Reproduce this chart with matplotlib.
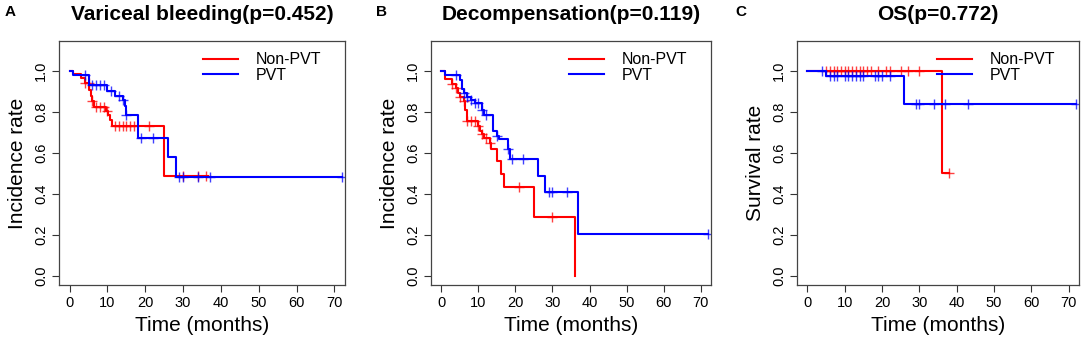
import numpy as np
import matplotlib
matplotlib.use('Agg')
import matplotlib.pyplot as plt

plt.rcParams['font.family'] = ['Liberation Sans', 'DejaVu Sans']

# ---- data ----
# panel A: variceal bleeding
a_red_t = [0, 1, 3, 4, 5.2, 5.6, 5.9, 6.4, 9.6, 10.2, 10.7, 11.2, 25]
a_red_s = [1.0, 0.982, 0.962, 0.94, 0.905, 0.878, 0.852, 0.822, 0.805, 0.782, 0.757, 0.732, 0.488]
a_red_end = 36.5
a_red_cens = [4, 5, 6, 7, 8, 9, 10, 12, 13, 14, 15, 16, 17, 21, 30, 34, 36]
a_blue_t = [0, 1, 5, 10, 12, 14, 14.6, 15, 18, 26, 28]
a_blue_s = [1.0, 0.978, 0.932, 0.902, 0.878, 0.856, 0.826, 0.786, 0.674, 0.578, 0.482]
a_blue_end = 72
a_blue_cens = [4, 6, 7, 8, 9, 11, 13, 14, 15, 19, 22, 29, 30, 34, 37, 72]

# panel B: decompensation
b_red_t = [0, 1, 3, 4, 4.5, 5, 6, 6.5, 7, 10, 10.5, 11, 11.5, 13, 13.5, 15, 16, 17, 25, 36]
b_red_s = [1.0, 0.957, 0.935, 0.913, 0.891, 0.87, 0.85, 0.81, 0.753, 0.73, 0.708, 0.69, 0.67, 0.645, 0.62, 0.558, 0.497, 0.434, 0.288, 0.0]
b_red_end = 36
b_red_cens = [3, 4, 5, 6, 7, 8, 9, 10, 11, 12, 13, 21, 30]
b_blue_t = [0, 1, 5, 5.5, 6, 7, 8, 9, 11, 11.5, 14, 15, 15.5, 18, 18.5, 26, 28, 37]
b_blue_s = [1.0, 0.978, 0.956, 0.91, 0.889, 0.872, 0.858, 0.84, 0.81, 0.783, 0.705, 0.68, 0.666, 0.617, 0.571, 0.489, 0.408, 0.204]
b_blue_end = 72
b_blue_cens = [4, 6, 7, 8, 9, 10, 11, 12, 15, 18, 19, 22, 29, 30, 34, 72]

# panel C: overall survival
c_red_t = [0, 36]
c_red_s = [1.0, 0.5]
c_red_end = 38
c_red_cens = [5, 6, 7, 8, 9, 10, 11, 12, 13, 14, 15, 16, 17, 19, 21, 22, 25, 27, 30, 38]
c_blue_t = [0, 5, 26]
c_blue_s = [1.0, 0.976, 0.837]
c_blue_end = 72
c_blue_cens = [4, 6, 7, 8, 10, 11, 12, 13, 14, 15, 18, 19, 20, 22, 29, 30, 34, 37, 43, 72]

titles = ['Variceal bleeding(p=0.452)', 'Decompensation(p=0.119)', 'OS(p=0.772)']
letters = ['A', 'B', 'C']
ylabels = ['Incidence rate', 'Incidence rate', 'Survival rate']
group_names = ['Non-PVT', 'PVT']

panels = [
    ((a_red_t, a_red_s, a_red_end, a_red_cens), (a_blue_t, a_blue_s, a_blue_end, a_blue_cens)),
    ((b_red_t, b_red_s, b_red_end, b_red_cens), (b_blue_t, b_blue_s, b_blue_end, b_blue_cens)),
    ((c_red_t, c_red_s, c_red_end, c_red_cens), (c_blue_t, c_blue_s, c_blue_end, c_blue_cens)),
]
colors = ['#ff0000', '#0000ff']

W, H = 1084, 341
fig = plt.figure(figsize=(W / 100, H / 100), dpi=100)

# axes boxes in pixels: left, right, top, bottom
boxes = [(59, 345, 41, 285), (431, 711, 41, 285), (797, 1079, 41, 285)]
letter_x = [5, 376, 735]


def step_at(t, s, x):
    i = np.searchsorted(np.asarray(t), x, side='right') - 1
    return np.asarray(s)[i]


for k, (l, r, top, bot) in enumerate(boxes):
    ax = fig.add_axes([l / W, 1 - bot / H, (r - l) / W, (bot - top) / H])
    for (t, s, end, cens), col in zip(panels[k], colors):
        tt = list(t) + [end]
        ss = list(s) + [s[-1]]
        ax.step(tt, ss, where='post', color=col, lw=1.5)
        cy = [step_at(t, s, c) for c in cens]
        ax.plot(cens, cy, ls='none', marker='+', ms=7, mew=1.0, color=col, alpha=0.75)
    # legend: plain lines + text, no frame
    for name, col in zip(group_names, colors):
        ax.plot([], [], color=col, lw=1.5, label=name)
    ax.legend(loc='upper right', frameon=False, fontsize=11.5, handlelength=2.2,
              handletextpad=1.1, labelspacing=0.05, borderaxespad=0.3,
              bbox_to_anchor=(0.955, 1.0))
    ax.set_xlim(-2.8, 72.8)
    ax.set_ylim(-0.044, 1.144)
    ax.set_xticks(np.arange(0, 71, 10))
    ax.set_yticks([0.0, 0.2, 0.4, 0.6, 0.8, 1.0])
    ax.set_yticklabels(['0.0', '0.2', '0.4', '0.6', '0.8', '1.0'], rotation=90, va='center')
    ax.tick_params(labelsize=10.5, length=5, width=0.8, color='#333333', pad=3)
    for sp in ax.spines.values():
        sp.set_color('#444444')
        sp.set_linewidth(0.9)
    ax.set_xlabel('Time (months)', fontsize=15, labelpad=4)
    ax.set_ylabel(ylabels[k], fontsize=15, labelpad=5)
    cx = (l + r) / 2 / W
    fig.text(cx, 1 - 14 / H, titles[k], ha='center', va='center', fontsize=15, fontweight='bold')
    fig.text(letter_x[k] / W, 1 - 12 / H, letters[k], ha='left', va='center',
             fontsize=11, fontweight='bold')

fig.savefig('out.png', dpi=100)
